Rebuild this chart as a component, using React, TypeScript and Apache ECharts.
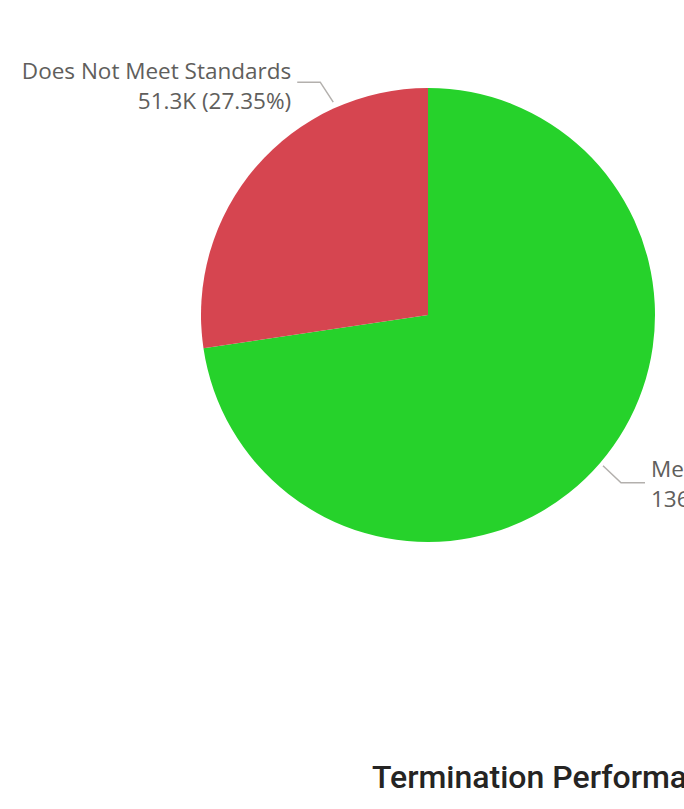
import React, { useEffect, useRef } from "react";
import * as echarts from "echarts";

const categories = ["Meets Standards", "Does Not Meet Standards"];
const valuesK = [136.3, 51.3];
const percents = ["72.65", "27.35"];
const colors = ["#26D22B", "#D64550"];
const titleText = "Termination Performance by Standard";

export default function App() {
  const ref = useRef<HTMLDivElement>(null);
  useEffect(() => {
    if (!ref.current) return;
    const chart = echarts.init(ref.current, undefined, { renderer: "svg" });
    const cx = 428;
    const cy = 315;
    const r = 227;
    chart.setOption({
      animation: false,
      graphic: [
        {
          type: "text",
          left: 372,
          top: 761,
          style: {
            text: titleText,
            fontFamily: "Roboto",
            fontWeight: 500,
            fontSize: 32,
            fill: "#252423",
          },
        },
      ],
      series: [
        {
          type: "pie",
          center: [cx, cy],
          radius: [0, r],
          startAngle: 90,
          clockwise: true,
          data: categories.map((c, i) => ({
            name: c,
            value: valuesK[i],
            itemStyle: { color: colors[i] },
          })),
          label: {
            show: true,
            formatter: (p: any) => `${p.name}\n${valuesK[p.dataIndex]}K (${percents[p.dataIndex]}%)`,
            color: "#605E5C",
            fontFamily: "Open Sans",
            fontSize: 22.5,
            lineHeight: 30,
            overflow: "none",
            width: 400,
          },
          labelLine: {
            show: true,
            length: 25,
            length2: 24,
            lineStyle: { color: "#B3B0AD", width: 1.5 },
          },
          labelLayout: (params: any) => {
            if (params.dataIndex === 1) {
              const a = (114 * Math.PI) / 180;
              const p0 = [cx + (r + 6) * Math.cos(a), cy - (r + 6) * Math.sin(a)];
              const p1 = [p0[0] - 13, p0[1] - 20];
              const p2 = [p1[0] - 23, p1[1]];
              return {
                x: p2[0] - 6,
                y: p2[1] + 3,
                align: "right",
                verticalAlign: "middle",
                labelLinePoints: [p0, p1, p2],
              };
            }
            const a = (-40.75 * Math.PI) / 180;
            const p0 = [cx + (r + 4) * Math.cos(a), cy - (r + 4) * Math.sin(a)];
            const p1 = [p0[0] + 18, p0[1] + 17];
            const p2 = [p1[0] + 24, p1[1]];
            return {
              x: p2[0] + 6,
              y: p2[1] + 1,
              align: "left",
              verticalAlign: "middle",
              labelLinePoints: [p0, p1, p2],
            };
          },
        },
      ],
    });
    return () => chart.dispose();
  }, []);
  return (
    <div style={{ position: "fixed", left: 0, top: 0, width: 684, height: 809, overflow: "hidden", background: "#fff" }}>
      <div ref={ref} style={{ width: 960, height: 809 }} />
    </div>
  );
}
